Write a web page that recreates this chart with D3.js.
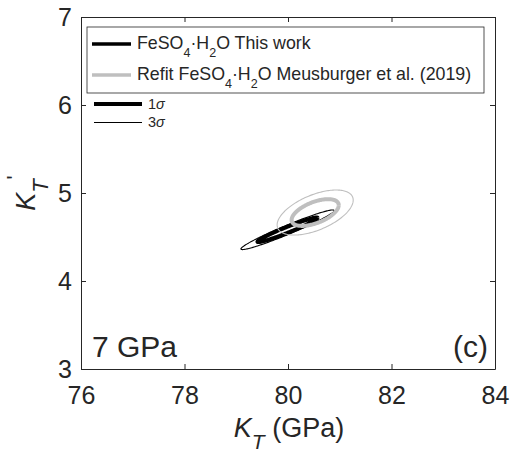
<!DOCTYPE html>
<html>
<head>
<meta charset="utf-8">
<script src="https://cdn.jsdelivr.net/npm/d3@7"></script>
<style>
  body { margin: 0; background: #fff; }
  text { font-family: "Liberation Sans", Arial, Helvetica, sans-serif; fill: #262626; }
</style>
</head>
<body>
<svg width="511" height="454"></svg>
<script>
// axis ticks
var xTicks = [76, 78, 80, 82, 84];
var yTicks = [3, 4, 5, 6, 7];

// confidence ellipses: [this work, refit Meusburger et al. (2019)]
var seriesNames = ["This work", "Refit Meusburger et al. (2019)"];
var seriesColors = ["#000000", "#bfbfbf"];
var centerKT = [79.99, 80.525];
var centerKp = [4.582, 4.778];
var halfKT1 = [0.58, 0.455];   // 1 sigma half width along K_T
var halfKp1 = [0.14, 0.152];   // 1 sigma half width along K_T'
var halfKT3 = [0.90, 0.735];   // 3 sigma
var halfKp3 = [0.225, 0.256];
var corr = [0.968, 0.55];

var svg = d3.select("svg"),
    width = +svg.attr("width"),
    height = +svg.attr("height");

var x = d3.scaleLinear().domain([76, 84]).range([81, 495]);
var y = d3.scaleLinear().domain([3, 7]).range([369, 17]);

var axisColor = "#262626";

// axes
var gx = svg.append("g")
    .attr("transform", "translate(0," + y(3) + ")")
    .call(d3.axisBottom(x).tickValues(xTicks).tickFormat(d3.format("d"))
      .tickSizeInner(-5).tickSizeOuter(0).tickPadding(17.5));
var gy = svg.append("g")
    .attr("transform", "translate(" + x(76) + ",0)")
    .call(d3.axisLeft(y).tickValues(yTicks).tickFormat(d3.format("d"))
      .tickSizeInner(-5).tickSizeOuter(0).tickPadding(9));
var gt = svg.append("g")
    .attr("transform", "translate(0," + y(7) + ")")
    .call(d3.axisTop(x).tickValues(xTicks).tickSizeInner(-5).tickSizeOuter(0).tickFormat(""));
var gr = svg.append("g")
    .attr("transform", "translate(" + x(84) + ",0)")
    .call(d3.axisRight(y).tickValues(yTicks).tickSizeInner(-5).tickSizeOuter(0).tickFormat(""));

[gx, gy, gt, gr].forEach(function(g) {
  g.selectAll("path, line").attr("stroke", axisColor).attr("stroke-width", 1);
  g.selectAll("text")
    .style("font-family", "Liberation Sans, Arial, sans-serif")
    .style("font-size", "25px")
    .attr("fill", axisColor);
});

// ellipse outline points from center, half widths and correlation
function ellipse(i, hx, hy) {
  var pts = [];
  var s = Math.sqrt(1 - corr[i] * corr[i]);
  for (var k = 0; k <= 180; k++) {
    var t = k / 180 * 2 * Math.PI;
    pts.push([centerKT[i] + hx * Math.cos(t),
              centerKp[i] + hy * (corr[i] * Math.cos(t) + s * Math.sin(t))]);
  }
  return pts;
}

var line = d3.line()
    .x(function(d) { return x(d[0]); })
    .y(function(d) { return y(d[1]); });

var plot = svg.append("g");
seriesNames.forEach(function(name, i) {
  plot.append("path")
    .attr("d", line(ellipse(i, halfKT1[i], halfKp1[i])))
    .attr("fill", "none")
    .attr("stroke", seriesColors[i])
    .attr("stroke-width", 4);
  plot.append("path")
    .attr("d", line(ellipse(i, halfKT3[i], halfKp3[i])))
    .attr("fill", "none")
    .attr("stroke", seriesColors[i])
    .attr("stroke-width", 1.1);
});

// legend
var leg = svg.append("g");
leg.append("rect")
    .attr("x", 87).attr("y", 27)
    .attr("width", 397).attr("height", 66)
    .attr("fill", "#fff")
    .attr("stroke", axisColor)
    .attr("stroke-width", 0.8);

function formula(t) {
  t.append("tspan").text("FeSO");
  t.append("tspan").attr("font-size", "12.5px").attr("dy", 8).text("4");
  t.append("tspan").attr("dy", -8).text("\u00b7H");
  t.append("tspan").attr("font-size", "12.5px").attr("dy", 8).text("2");
  t.append("tspan").attr("dy", -8).text("O");
}

[44, 75].forEach(function(ly, i) {
  leg.append("line")
    .attr("x1", 92).attr("x2", 131)
    .attr("y1", ly).attr("y2", ly)
    .attr("stroke", seriesColors[i])
    .attr("stroke-width", 3.5);
  var t = leg.append("text")
    .attr("x", 137).attr("y", ly + 4.5)
    .style("font-size", "17.8px");
  if (i == 1) t.append("tspan").text("Refit ");
  formula(t);
  t.append("tspan").text(i == 0 ? " This work" : " Meusburger et al. (2019)");
});

// sigma key
[[104, 4, "1"], [122.5, 1, "3"]].forEach(function(d) {
  svg.append("line")
    .attr("x1", 94).attr("x2", 142)
    .attr("y1", d[0]).attr("y2", d[0])
    .attr("stroke", "#000")
    .attr("stroke-width", d[1]);
  var t = svg.append("text")
    .attr("x", 148).attr("y", d[0] + 4.5)
    .style("font-size", "14.5px");
  t.append("tspan").text(d[2]);
  t.append("tspan").style("font-style", "italic").text("\u03c3");
});

// panel annotations
svg.append("text")
    .attr("x", 92).attr("y", 356.5)
    .style("font-size", "30px")
    .attr("fill", "#000")
    .text("7 GPa");
svg.append("text")
    .attr("x", 488).attr("y", 356.5)
    .attr("text-anchor", "end")
    .style("font-size", "30px")
    .attr("fill", "#000")
    .text("(c)");

// axis labels
var xl = svg.append("text")
    .attr("x", 289).attr("y", 437)
    .attr("text-anchor", "middle")
    .style("font-size", "27px");
xl.append("tspan").style("font-style", "italic").text("K");
xl.append("tspan").style("font-style", "italic").style("font-size", "21px").attr("dy", 11.5).text("T");
xl.append("tspan").attr("dy", -11.5).text(" (GPa)");

var yl = svg.append("text")
    .attr("transform", "translate(35,193) rotate(-90)")
    .attr("text-anchor", "middle")
    .style("font-size", "27px");
yl.append("tspan").style("font-style", "italic").text("K");
yl.append("tspan").style("font-style", "italic").style("font-size", "22px").attr("dy", 13).text("T");
yl.append("tspan").style("font-size", "22px").attr("dy", -26).text("'");
</script>
</body>
</html>
